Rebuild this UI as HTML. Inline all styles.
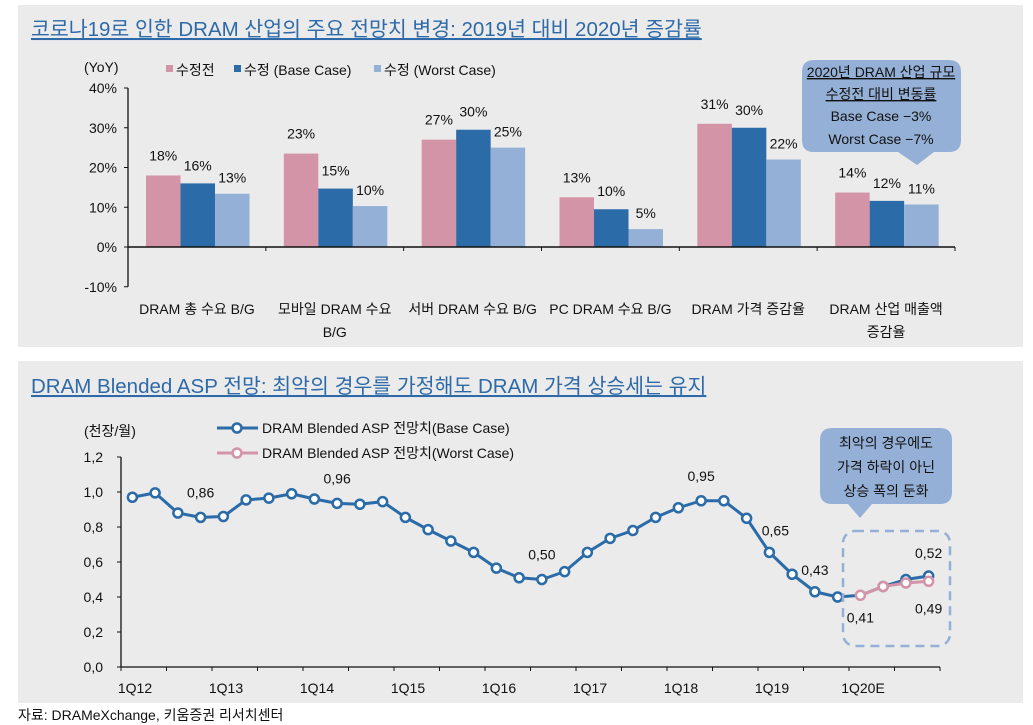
<!DOCTYPE html>
<html><head><meta charset="utf-8"><style>
body{margin:0;width:1033px;height:725px;background:#fff;overflow:hidden;font-family:"Liberation Sans","Noto Sans CJK KR",sans-serif;}
svg{display:block}
text{font-family:"Liberation Sans","Noto Sans CJK KR",sans-serif;fill:#111}
</style></head><body>
<svg id="s" width="1033" height="725">
<rect x="18" y="5" width="1005" height="342" fill="#ebebeb"/>
<rect x="18" y="361" width="1005" height="342" fill="#ebebeb"/>
<text x="31" y="36" font-size="20.5" style="fill:#2e6aa8;text-decoration:underline">코로나19로 인한 DRAM 산업의 주요 전망치 변경: 2019년 대비 2020년 증감률</text>
<text x="31" y="393" font-size="20.5" style="fill:#2e6aa8;text-decoration:underline">DRAM Blended ASP 전망: 최악의 경우를 가정해도 DRAM 가격 상승세는 유지</text>
<text x="18" y="720" font-size="14">자료: DRAMeXchange, 키움증권 리서치센터</text>
<g id="bar"></g><g id="line"></g>
</svg>
<script>
const NS="http://www.w3.org/2000/svg";
function mk(p,t,a,txt){const e=document.createElementNS(NS,t);for(const k in a)e.setAttribute(k,a[k]);if(txt!=null)e.textContent=txt;p.appendChild(e);return e;}
// ---- bar chart data
const barCats=[["DRAM 총 수요 B/G"],["모바일 DRAM 수요","B/G"],["서버 DRAM 수요 B/G"],["PC DRAM 수요 B/G"],["DRAM 가격 증감율"],["DRAM 산업 매출액","증감율"]];
const seriesBefore=[18,23.5,27,12.5,31,13.7];
const seriesBase=[16,14.7,29.5,9.5,30,11.6];
const seriesWorst=[13.4,10.3,25,4.5,22,10.7];
const labelsBefore=["18%","23%","27%","13%","31%","14%"];
const labelsBase=["16%","15%","30%","10%","30%","12%"];
const labelsWorst=["13%","10%","25%","5%","22%","11%"];
const barTicks=[-10,0,10,20,30,40];
// ---- line chart data
const quarterLabels=["1Q12","1Q13","1Q14","1Q15","1Q16","1Q17","1Q18","1Q19","1Q20E"];
const aspBase=[0.97,0.995,0.88,0.855,0.86,0.955,0.965,0.99,0.96,0.935,0.93,0.945,0.855,0.785,0.72,0.655,0.565,0.51,0.50,0.545,0.655,0.735,0.78,0.855,0.91,0.95,0.95,0.85,0.655,0.53,0.43,0.40,0.41,0.46,0.50,0.52];
const aspWorst=[0.41,0.46,0.48,0.49];
const worstStart=32;
const lineTicks=[0,0.2,0.4,0.6,0.8,1.0,1.2];
const annotIdx=[3,9,18,25,28,30,32,35];
const annotText=["0,86","0,96","0,50","0,95","0,65","0,43","0,41","0,52"];

const FS=14;
// bar chart
const B=document.getElementById('bar');
const bx0=128,bx1=955,by=v=>247-v*3.975,gw=(bx1-bx0)/6,bw=34.5;
mk(B,'line',{x1:bx0,y1:by(-10),x2:bx0,y2:by(40),stroke:'#111','stroke-width':1.3});
barTicks.forEach(t=>{const e=mk(B,'text',{x:bx0-11,y:by(t)+5,'font-size':FS,'text-anchor':'end'},t+'%');mk(B,'line',{x1:bx0-4,x2:bx0,y1:by(t),y2:by(t),stroke:'#111'});});
mk(B,'text',{x:84,y:72,'font-size':FS},'(YoY)');
const leg=[["#d494a8","수정전",166],["#2b6ba7","수정 (Base Case)",234],["#95b0d6","수정 (Worst Case)",374]];
leg.forEach(l=>{const r=mk(B,'rect',{x:l[2],y:65,width:7,height:7,fill:l[0]});const t=mk(B,'text',{x:l[2]+10,y:75,'font-size':FS},l[1]);});
const ser=[[seriesBefore,labelsBefore,"#d494a8"],[seriesBase,labelsBase,"#2b6ba7"],[seriesWorst,labelsWorst,"#95b0d6"]];
barCats.forEach((c,i)=>{
 const g0=bx0+i*gw+18;
 ser.forEach((s,j)=>{const x=g0+j*bw,v=s[0][i];
  const r=mk(B,'rect',{x:x,y:by(v),width:bw,height:by(0)-by(v),fill:s[2]});
  
  const t=mk(B,'text',{x:x+bw/2,y:by(v)-(j==0?18:j==1?16:14)+3,'font-size':FS,'text-anchor':'middle'},s[1][i]);
  });
 c.forEach((ln,k)=>{const t=mk(B,'text',{x:bx0+(i+0.5)*gw,y:314+k*23,'font-size':FS,'text-anchor':'middle'},ln);});
 mk(B,'line',{x1:bx0+(i+1)*gw,x2:bx0+(i+1)*gw,y1:by(0),y2:by(0)+4,stroke:'#111'});
});
mk(B,'line',{x1:bx0,x2:bx1,y1:by(0),y2:by(0),stroke:'#111','stroke-width':1.5});
// callout top
const c1=mk(B,'path',{d:'M814 60 H949 Q961 60 961 72 V140 Q961 152 949 152 H934 L917 165 L898 152 H814 Q802 152 802 140 V72 Q802 60 814 60 Z',fill:'#95b0d6'});

[["2020년 DRAM 산업 규모",77,1],["수정전 대비 변동률",99,1],["Base Case −3%",121,0],["Worst Case −7%",144,0]].forEach(a=>{const t=mk(B,'text',{x:881,y:a[1],'font-size':FS,'text-anchor':'middle','text-decoration':a[2]?'underline':'none'},a[0]);});

// line chart
const L=document.getElementById('line');
const lx0=121,lq=22.75,ly=v=>667-v*175,lxp=i=>lx0+lq*(i+0.5);
mk(L,'line',{x1:lx0,y1:ly(0),x2:lx0,y2:ly(1.2),stroke:'#111','stroke-width':1.3});
mk(L,'line',{x1:lx0,y1:ly(0),x2:lx0+36*lq,y2:ly(0),stroke:'#111','stroke-width':1.3});
lineTicks.forEach(t=>{const e=mk(L,'text',{x:103,y:ly(t)+5,'font-size':FS,'text-anchor':'end'},t.toFixed(1).replace('.',','));mk(L,'line',{x1:lx0-4,x2:lx0,y1:ly(t),y2:ly(t),stroke:'#111'});});
for(let k=0;k<=18;k++)mk(L,'line',{x1:lx0+k*2*lq,x2:lx0+k*2*lq,y1:ly(0),y2:ly(0)+4,stroke:'#111'});
quarterLabels.forEach((q,k)=>{const t=mk(L,'text',{x:lx0+k*4*lq+14,y:693,'font-size':FS,'text-anchor':'middle'},q);});
mk(L,'text',{x:84,y:436,'font-size':FS},'(천장/월)');
// legend
[["#2b6ba7",428,"DRAM Blended ASP 전망치(Base Case)"],["#d494a8",453,"DRAM Blended ASP 전망치(Worst Case)"]].forEach(l=>{
 mk(L,'line',{x1:217,x2:258,y1:l[1],y2:l[1],stroke:l[0],'stroke-width':3});
 mk(L,'circle',{cx:237,cy:l[1],r:4.5,fill:'#fff',stroke:l[0],'stroke-width':2.5});
 const t=mk(L,'text',{x:262,y:l[1]+5,'font-size':FS},l[2]);});
const bp=aspBase.map((v,i)=>lxp(i)+','+ly(v)).join(' ');
const pl=mk(L,'polyline',{points:bp,fill:'none',stroke:'#2b6ba7','stroke-width':3,'stroke-linejoin':'round'});

const wp=aspWorst.map((v,i)=>lxp(i+worstStart)+','+ly(v)).join(' ');
const pw=mk(L,'polyline',{points:wp,fill:'none',stroke:'#d494a8','stroke-width':3});

aspBase.forEach((v,i)=>{if(i===worstStart)return;const c=mk(L,'circle',{cx:lxp(i),cy:ly(v),r:4.5,fill:'#fff',stroke:'#2b6ba7','stroke-width':2.5});});
aspWorst.forEach((v,i)=>{const c=mk(L,'circle',{cx:lxp(i+worstStart),cy:ly(v),r:4.5,fill:'#fff',stroke:'#d494a8','stroke-width':2.5});});
const off=[[0,-20],[0,-20],[0,-20],[0,-20],[6,-17],[0,-17],[0,27],[0,-18]];
annotIdx.forEach((idx,k)=>{let v=aspBase[idx];const t=mk(L,'text',{x:lxp(idx)+off[k][0],y:ly(v)+off[k][1],'font-size':FS,'text-anchor':'middle'},annotText[k]);});
const t49=mk(L,'text',{x:lxp(35),y:ly(aspWorst[3])+32,'font-size':FS,'text-anchor':'middle'},'0,49');

const db=mk(L,'rect',{x:843,y:531,width:107,height:115,rx:12,fill:'none',stroke:'#95b0d6','stroke-width':2.5,'stroke-dasharray':'9 6'});

const c2=mk(L,'path',{d:'M832 428 H940 Q952 428 952 440 V492 Q952 504 940 504 H872 L860 518 L848 504 H832 Q820 504 820 492 V440 Q820 428 832 428 Z',fill:'#95b0d6'});

[["최악의 경우에도",448],["가격 하락이 아닌",472],["상승 폭의 둔화",496]].forEach(a=>{const t=mk(L,'text',{x:886,y:a[1],'font-size':FS,'text-anchor':'middle'},a[0]);});
</script>
</body></html>
